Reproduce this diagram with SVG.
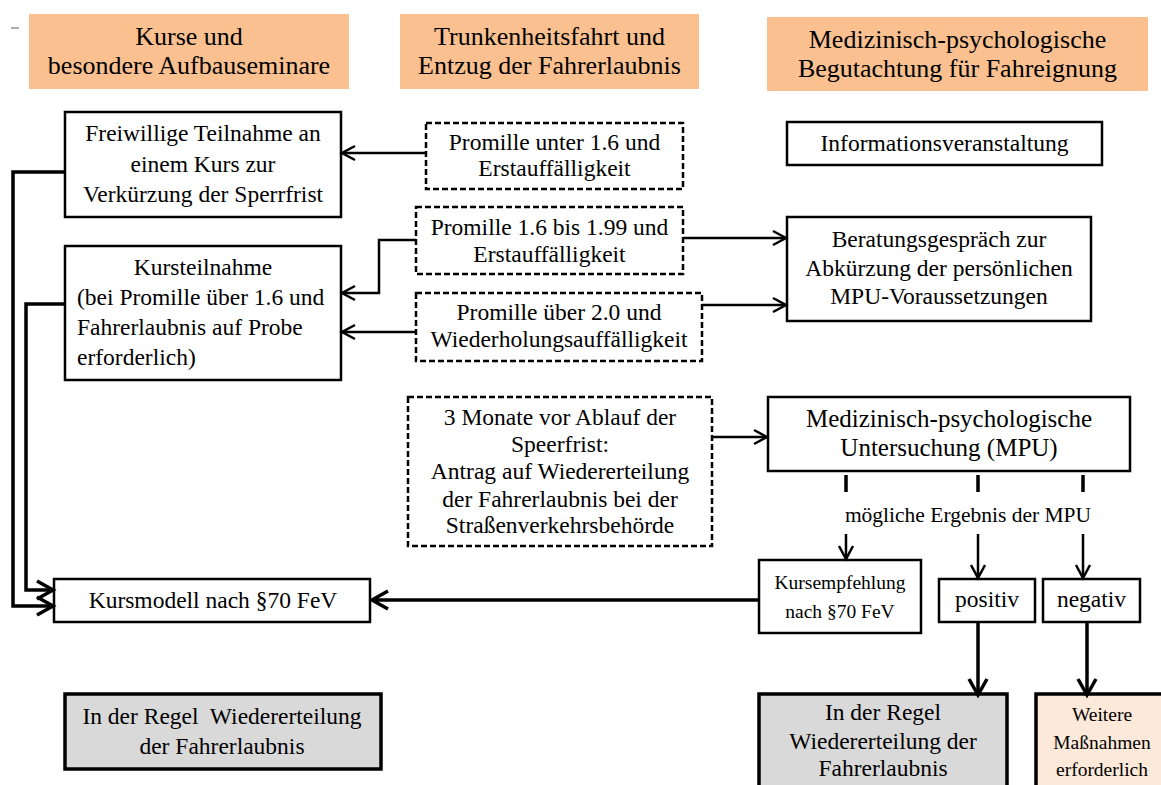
<svg xmlns="http://www.w3.org/2000/svg" width="1161" height="785" viewBox="0 0 1161 785" font-family="'Times New Roman', 'Liberation Serif', Tinos, serif">
<defs>
<style>
text{font-family:"Times New Roman","Liberation Serif",Tinos,serif;fill:#000;text-anchor:middle}
.hd{font-size:26px}
.t{font-size:23.5px}
.s{font-size:19.5px}
.m{font-size:21.5px}
.big{font-size:25px}
.hdbox{fill:#fac090;stroke:none}
.box{fill:#fff;stroke:#000;stroke-width:2.5}
.dbox{fill:#fff;stroke:#000;stroke-width:2.5;stroke-dasharray:6 3}
.gbox{fill:#d9d9d9;stroke:#000;stroke-width:3.5}
.pbox{fill:#fde9d9;stroke:#000;stroke-width:3.5}
.c{fill:none;stroke:#000;stroke-width:2.5}
.ck{fill:none;stroke:#000;stroke-width:3.5}
.l{text-anchor:start}
</style>
<marker id="a" markerUnits="userSpaceOnUse" markerWidth="20" markerHeight="20" refX="13" refY="7" orient="auto" overflow="visible">
<path d="M0,0 L13,7 L0,14" fill="none" stroke="#000" stroke-width="2.5"/>
</marker>
<marker id="ak" markerUnits="userSpaceOnUse" markerWidth="24" markerHeight="24" refX="16" refY="9" orient="auto" overflow="visible">
<path d="M0,0 L16,9 L0,18" fill="none" stroke="#000" stroke-width="3.5"/>
</marker>
</defs>
<line x1="11" y1="28" x2="19" y2="28" stroke="#b0b0b0" stroke-width="2"/>
<g id="header1"><rect class="hdbox" x="29" y="14" width="320" height="75"/><text class="hd" x="189" y="45">Kurse und</text><text class="hd" x="189" y="74">besondere Aufbauseminare</text></g>
<g id="header2"><rect class="hdbox" x="400" y="14" width="299" height="75"/><text class="hd" x="549.5" y="45">Trunkenheitsfahrt und</text><text class="hd" x="549.5" y="74">Entzug der Fahrerlaubnis</text></g>
<g id="header3"><rect class="hdbox" x="767" y="17" width="381" height="74"/><text class="hd" x="957.5" y="48">Medizinisch-psychologische</text><text class="hd" x="957.5" y="77">Begutachtung für Fahreignung</text></g>
<g id="freiwillig"><rect class="box" x="65" y="112" width="276" height="105"/><text class="t" x="203" y="141">Freiwillige Teilnahme an</text><text class="t" x="203" y="172">einem Kurs zur</text><text class="t" x="203" y="202">Verkürzung der Sperrfrist</text></g>
<g id="promille-unter"><rect class="dbox" x="426" y="123" width="257" height="66"/><text class="t" x="554.5" y="150">Promille unter 1.6 und</text><text class="t" x="554.5" y="176">Erstauffälligkeit</text></g>
<g id="info"><rect class="box" x="787" y="122" width="315" height="43"/><text class="t" x="944.5" y="151">Informationsveranstaltung</text></g>
<g id="promille-16"><rect class="dbox" x="416" y="207" width="267" height="67"/><text class="t" x="549.5" y="235">Promille 1.6 bis 1.99 und</text><text class="t" x="549.5" y="262">Erstauffälligkeit</text></g>
<g id="promille-20"><rect class="dbox" x="416" y="293" width="286" height="68"/><text class="t" x="559" y="320">Promille über 2.0 und</text><text class="t" x="559" y="347">Wiederholungsauffälligkeit</text></g>
<g id="kursteilnahme"><rect class="box" x="65" y="246" width="276" height="134"/><text class="t" x="203" y="275">Kursteilnahme</text><text class="t l" x="77" y="305">(bei Promille über 1.6 und</text><text class="t l" x="77" y="335">Fahrerlaubnis auf Probe</text><text class="t l" x="77" y="365">erforderlich)</text></g>
<g id="beratung"><rect class="box" x="787" y="217" width="304" height="104"/><text class="t" x="939" y="247">Beratungsgespräch zur</text><text class="t" x="939" y="276">Abkürzung der persönlichen</text><text class="t" x="939" y="304">MPU-Voraussetzungen</text></g>
<g id="antrag"><rect class="dbox" x="408" y="397" width="304" height="149"/><text class="t" x="560" y="425">3 Monate vor Ablauf der</text><text class="t" x="560" y="452">Speerfrist:</text><text class="t" x="560" y="479">Antrag auf Wiedererteilung</text><text class="t" x="560" y="507">der Fahrerlaubnis bei der</text><text class="t" x="560" y="533">Straßenverkehrsbehörde</text></g>
<g id="mpu"><rect class="box" x="768" y="397" width="362" height="74"/><text class="big" x="949" y="427">Medizinisch-psychologische</text><text class="big" x="949" y="456">Untersuchung (MPU)</text></g>
<g id="kursempfehlung"><rect class="box" x="759" y="560" width="162" height="73"/><text class="s" x="840" y="589">Kursempfehlung</text><text class="s" x="840" y="618">nach §70 FeV</text></g>
<g id="positiv"><rect class="box" x="939" y="579" width="96" height="43"/><text class="t" x="987" y="607">positiv</text></g>
<g id="negativ"><rect class="box" x="1043" y="579" width="97" height="43"/><text class="t" x="1091.5" y="607">negativ</text></g>
<g id="kursmodell"><rect class="box" x="54" y="579" width="316" height="43"/><text class="t" x="213" y="608">Kursmodell nach §70 FeV</text></g>
<g id="regel-links"><rect class="gbox" x="65" y="694" width="316" height="75"/><text class="t" x="222" y="724">In der Regel&#160; Wiedererteilung</text><text class="t" x="222" y="754">der Fahrerlaubnis</text></g>
<g id="regel-rechts"><rect class="gbox" x="759" y="694" width="248" height="110"/><text class="t" x="883" y="720">In der Regel</text><text class="t" x="883" y="749">Wiedererteilung der</text><text class="t" x="883" y="776">Fahrerlaubnis</text></g>
<g id="weitere"><rect class="pbox" x="1036" y="694" width="140" height="110"/><text class="s" x="1102" y="721">Weitere</text><text class="s" x="1102" y="749">Maßnahmen</text><text class="s" x="1102" y="776">erforderlich</text></g>
<g id="label-ergebnis"><text class="m" x="968" y="522">mögliche Ergebnis der MPU</text></g>
<g id="connectors">
<path class="c" d="M426,153 H342" marker-end="url(#a)"/>
<path class="c" d="M416,240 H379 V293 H342" marker-end="url(#a)"/>
<path class="c" d="M416,332 H342" marker-end="url(#a)"/>
<path class="c" d="M683,238 H786" marker-end="url(#a)"/>
<path class="c" d="M702,305 H786" marker-end="url(#a)"/>
<path class="c" d="M712,437 H767" marker-end="url(#a)"/>
<path class="ck" d="M65,172 H13 V606 H53" marker-end="url(#ak)"/>
<path class="ck" d="M65,304 H26 V590 H53" marker-end="url(#ak)"/>
<path class="ck" d="M759,600 H372" marker-end="url(#ak)"/>
<path class="ck" d="M846,475 V492 M978,475 V492 M1083,475 V492"/>
<path class="c" d="M846,534 V559" marker-end="url(#a)"/>
<path class="c" d="M978,534 V578" marker-end="url(#a)"/>
<path class="c" d="M1083,534 V578" marker-end="url(#a)"/>
<path class="ck" d="M978,622 V695" marker-end="url(#ak)"/>
<path class="ck" d="M1087,622 V695" marker-end="url(#ak)"/>
</g>
</svg>
